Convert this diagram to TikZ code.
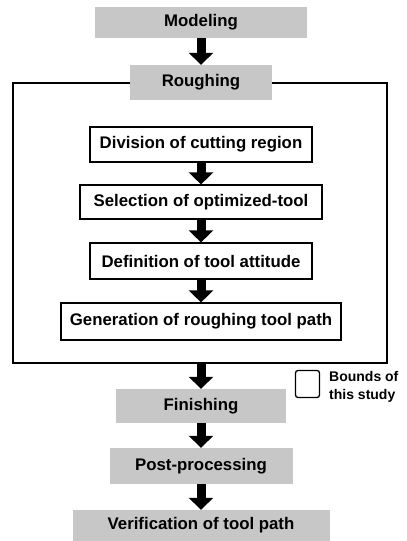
\documentclass[tikz,border=0pt]{standalone}
\usepackage{fontspec}
\setmainfont{Liberation Sans}
\usetikzlibrary{arrows.meta}
\begin{document}
\begin{tikzpicture}[x=1pt,y=-1pt,
  boxtext/.style={inner sep=0pt, font=\fontsize{16.8}{19}\selectfont\bfseries},
  shaded/.style={boxtext, fill=black!22, draw=none},
  plainbox/.style={boxtext, fill=white, draw=black, line width=1.2pt},
  flow/.style={line width=9pt, -{Triangle[width=24pt,length=12pt]}},
  framebox/.style={draw=black, line width=1.4pt, inner sep=0pt}
]
\useasboundingbox (0,0) rectangle (407,541);
\node[framebox, minimum width=374pt, minimum height=280pt] (frame) at (200,223) {};
\node[shaded, minimum width=212pt, minimum height=31pt] (mod) at (201,22.5) {Modeling};
\node[shaded, minimum width=142pt, minimum height=35pt] (rou) at (201,82.5) {Roughing};
\node[plainbox, minimum width=222pt, minimum height=35pt] (div) at (201,144.5) {Division of cutting region};
\node[plainbox, minimum width=242pt, minimum height=34pt] (sel) at (201,202) {Selection of optimized-tool};
\node[plainbox, minimum width=222pt, minimum height=36pt] (def) at (201,261) {Definition of tool attitude};
\node[plainbox, minimum width=280pt, minimum height=37pt] (gen) at (201,321.5) {Generation of roughing tool path};
\coordinate (fbot) at (201,363);
\node[shaded, minimum width=170pt, minimum height=34pt] (fin) at (201,406) {Finishing};
\node[shaded, minimum width=183pt, minimum height=36pt] (post) at (201,466) {Post-processing};
\node[shaded, minimum width=257pt, minimum height=31pt] (ver) at (201,525.5) {Verification of tool path};
\node[draw=black, line width=1.3pt, rounded corners=2.5pt, minimum width=24pt, minimum height=27pt, inner sep=0pt] (leg) at (307.5,384) {};
\node[anchor=west, align=left, inner sep=0pt, font=\fontsize{14}{18.5}\selectfont\bfseries] (legt) at (329,387) {Bounds of\\this study};
\draw[flow] (mod.south) -- (rou.north);
\draw[flow] (div.south) -- (sel.north);
\draw[flow] (sel.south) -- (def.north);
\draw[flow] (def.south) -- (gen.north);
\draw[flow] (fbot) -- (fin.north);
\draw[flow] (fin.south) -- (post.north);
\draw[flow] (post.south) -- (ver.north);
\end{tikzpicture}
\end{document}
